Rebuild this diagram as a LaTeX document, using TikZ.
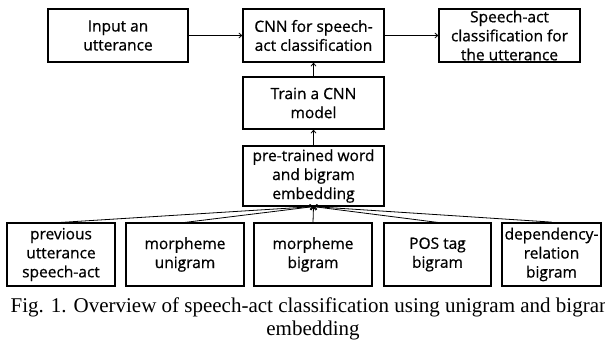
\documentclass[tikz,border=0pt]{standalone}
\usepackage{fontspec}
\setmainfont{Liberation Serif}
\newfontfamily\boxfont[FakeBold=0.7]{Open Sans}
\usetikzlibrary{arrows.meta}
\begin{document}
\begin{tikzpicture}[x=1pt,y=-1pt,
  box/.style={draw, line width=1.2pt, inner sep=0pt, align=center,
    font=\boxfont\fontsize{15.5}{19}\selectfont},
  arr/.style={line width=0.8pt, -{Straight Barb[length=3pt,width=5pt]}}]
\useasboundingbox (0,0) rectangle (605,343);
\node[box, minimum width=140pt, minimum height=53pt] (in) at (118,35.5) {Input an\\utterance};
\node[box, minimum width=141pt, minimum height=53pt] (cnn) at (313.5,35.5) {CNN for speech-\\act classification};
\node[box, minimum width=141pt, minimum height=53pt] (out) at (509.5,35.5) {Speech-act\\classification for\\the utterance};
\node[box, minimum width=141pt, minimum height=52pt] (train) at (313.5,103) {Train a CNN\\model};
\node[box, minimum width=141pt, minimum height=60pt] (pre) at (313.5,176) {pre-trained word\\and bigram\\embedding};
\node[box, minimum width=108pt, minimum height=63pt] (b1) at (61,254.5) {previous\\utterance\\speech-act};
\node[box, minimum width=118pt, minimum height=63pt] (b2) at (185,254.5) {morpheme\\unigram};
\node[box, minimum width=118pt, minimum height=63pt] (b3) at (313,254.5) {morpheme\\bigram};
\node[box, minimum width=107pt, minimum height=63pt] (b4) at (437.5,254.5) {POS tag\\bigram};
\node[box, line width=1.8pt, minimum width=99pt, minimum height=63pt] (b5) at (551.5,254.5) {dependency-\\relation\\bigram};
\draw[arr] (in.east) -- (cnn.west);
\draw[arr] (cnn.east) -- (out.west);
\draw[arr] (train.north) -- (cnn.south);
\draw[arr] (pre.north) -- (train.south);
\foreach \b in {b1,b2,b3,b4,b5} \draw[arr] (\b.north) -- (pre.south);
\node[anchor=base, align=center, inner sep=0pt, font=\fontsize{21}{23}\selectfont] (cap) at (313,335)
  {Fig. 1. Overview of speech-act classification using unigram and bigram\\embedding};
\end{tikzpicture}
\end{document}
